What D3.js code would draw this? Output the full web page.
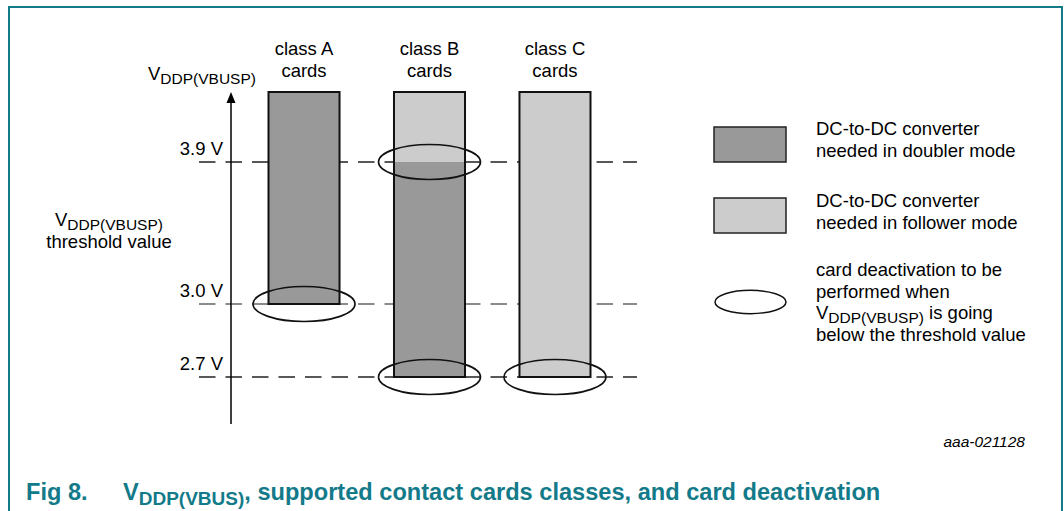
<!DOCTYPE html>
<html>
<head>
<meta charset="utf-8">
<script src="https://cdn.jsdelivr.net/npm/d3@7"></script>
<style>
  body { margin: 0; background: #fff; }
  svg { display: block; font-family: "Liberation Sans", Arial, sans-serif; }
</style>
</head>
<body>
<div id="chart-area"></div>
<script>
// card classes and the voltage levels of the figure
let classes = ["class A", "class B", "class C"]
let thresholds = [3.9, 3.0, 2.7]
let thresholdLabels = ["3.9 V", "3.0 V", "2.7 V"]
let topLevel = 4.35 // upper end of the drawn bars

// bar segments: class, mode, from level, to level
let segClass = ["class A", "class B", "class B", "class C"]
let segMode = ["doubler", "follower", "doubler", "follower"]
let segFrom = [3.0, 3.9, 2.7, 2.7]
let segTo = [topLevel, topLevel, 3.9, topLevel]

// card deactivation points
let deactClass = ["class A", "class B", "class B", "class C"]
let deactLevel = [3.0, 3.9, 2.7, 2.7]

let teal = "#137a8a"
let modeColor = { doubler: "#999999", follower: "#cccccc" }
let fs = "18.5px", subFs = "15.5px"

let width = 1064, height = 511

let svg = d3.select("#chart-area").append("svg")
  .attr("width", width)
  .attr("height", height)

// frame (open at the bottom)
svg.append("path")
  .attr("d", "M9," + height + "V7H1062V" + height)
  .attr("fill", "none")
  .attr("stroke", teal)
  .attr("stroke-width", 2)

let y = d3.scaleLinear()
  .domain([2.7, 3.0, 3.9, topLevel])
  .range([377, 304, 162, 92])

let x = d3.scaleBand()
  .domain(classes)
  .range([268.5, 590.5])
  .paddingInner(0.434)
  .paddingOuter(0)

let g = svg.append("g")

// dashed threshold lines
thresholds.forEach((t, i) => {
  g.append("line")
    .attr("x1", 199).attr("x2", 637)
    .attr("y1", y(t)).attr("y2", y(t))
    .attr("stroke", t === 3.0 ? "#666" : "#222")
    .attr("stroke-width", 1.3)
    .attr("stroke-dasharray", "16.5,10")
  g.append("text")
    .attr("x", 223)
    .attr("y", y(t) - 7)
    .attr("text-anchor", "end")
    .style("font-size", fs)
    .text(thresholdLabels[i])
})

// vertical axis with arrow
g.append("line")
  .attr("x1", 231).attr("x2", 231)
  .attr("y1", 424).attr("y2", 100)
  .attr("stroke", "#000")
  .attr("stroke-width", 1.5)
g.append("path")
  .attr("d", "M231,92L226.5,103L235.5,103Z")
  .attr("fill", "#000")

// axis label
let axLab = g.append("text")
  .attr("x", 148)
  .attr("y", 80)
  .style("font-size", fs)
axLab.append("tspan").text("V")
axLab.append("tspan").attr("dy", 4).style("font-size", subFs).text("DDP(VBUSP)")

// left label
let lab2 = g.append("text")
  .attr("x", 109)
  .attr("y", 226)
  .attr("text-anchor", "middle")
  .style("font-size", fs)
lab2.append("tspan").text("V")
lab2.append("tspan").attr("dy", 4).style("font-size", subFs).text("DDP(VBUSP)")
g.append("text")
  .attr("x", 109)
  .attr("y", 248)
  .attr("text-anchor", "middle")
  .style("font-size", fs)
  .text("threshold value")

// class headings
classes.forEach(c => {
  let t = g.append("text")
    .attr("text-anchor", "middle")
    .style("font-size", fs)
  t.append("tspan").attr("x", x(c) + x.bandwidth() / 2).attr("y", 55).text(c)
  t.append("tspan").attr("x", x(c) + x.bandwidth() / 2).attr("y", 77).text("cards")
})

// bar segments
let segs = segClass.map((c, i) => ({ cls: c, mode: segMode[i], from: segFrom[i], to: segTo[i] }))
g.selectAll("rect.seg")
  .data(segs)
  .enter().append("rect")
    .attr("class", "seg")
    .attr("x", d => x(d.cls))
    .attr("width", x.bandwidth())
    .attr("y", d => y(d.to))
    .attr("height", d => y(d.from) - y(d.to))
    .attr("fill", d => modeColor[d.mode])

// bar outlines
classes.forEach(c => {
  let lo = d3.min(segs.filter(s => s.cls === c), s => s.from)
  g.append("rect")
    .attr("x", x(c))
    .attr("width", x.bandwidth())
    .attr("y", y(topLevel))
    .attr("height", y(lo) - y(topLevel))
    .attr("fill", "none")
    .attr("stroke", "#111")
    .attr("stroke-width", 2)
})

// deactivation ellipses
let deacts = deactClass.map((c, i) => ({ cls: c, v: deactLevel[i] }))
g.selectAll("ellipse.deact")
  .data(deacts)
  .enter().append("ellipse")
    .attr("class", "deact")
    .attr("cx", d => x(d.cls) + x.bandwidth() / 2)
    .attr("cy", d => y(d.v))
    .attr("rx", 51)
    .attr("ry", 17.5)
    .attr("fill", "none")
    .attr("stroke", "#111")
    .attr("stroke-width", 1.6)

// legend
let legend = svg.append("g")
legend.append("rect")
  .attr("x", 714).attr("y", 127).attr("width", 72).attr("height", 35)
  .attr("fill", modeColor.doubler).attr("stroke", "#222").attr("stroke-width", 1.5)
legend.append("rect")
  .attr("x", 714).attr("y", 198).attr("width", 72).attr("height", 35)
  .attr("fill", modeColor.follower).attr("stroke", "#222").attr("stroke-width", 1.5)
legend.append("ellipse")
  .attr("cx", 750.5).attr("cy", 302).attr("rx", 35.5).attr("ry", 11.7)
  .attr("fill", "#fff").attr("stroke", "#111").attr("stroke-width", 1.5)

let legLines = [
  ["DC-to-DC converter", 135],
  ["needed in doubler mode", 157],
  ["DC-to-DC converter", 207],
  ["needed in follower mode", 229],
  ["card deactivation to be", 276],
  ["performed when", 298],
  [null, 319],
  ["below the threshold value", 341]
]
legLines.forEach(l => {
  let t = legend.append("text")
    .attr("x", 816).attr("y", l[1])
    .style("font-size", fs)
  if (l[0]) { t.text(l[0]) }
  else {
    t.append("tspan").text("V")
    t.append("tspan").attr("dy", 4).style("font-size", subFs).text("DDP(VBUSP)")
    t.append("tspan").attr("dy", -4).text(" is going")
  }
})

// figure id
svg.append("text")
  .attr("x", 1025).attr("y", 447)
  .attr("text-anchor", "end")
  .style("font-size", "15.5px")
  .style("font-style", "italic")
  .text("aaa-021128")

// caption
let cap = svg.append("g")
  .attr("fill", teal)
  .style("font-weight", "bold")
  .style("font-size", "23.6px")
cap.append("text").attr("x", 26).attr("y", 500).text("Fig 8.")
let capT = cap.append("text").attr("x", 123).attr("y", 500)
capT.append("tspan").text("V")
capT.append("tspan").attr("dy", 5).style("font-size", "19px").text("DDP(VBUS)")
capT.append("tspan").attr("dy", -5).text(", supported contact cards classes, and card deactivation")
</script>
</body>
</html>
